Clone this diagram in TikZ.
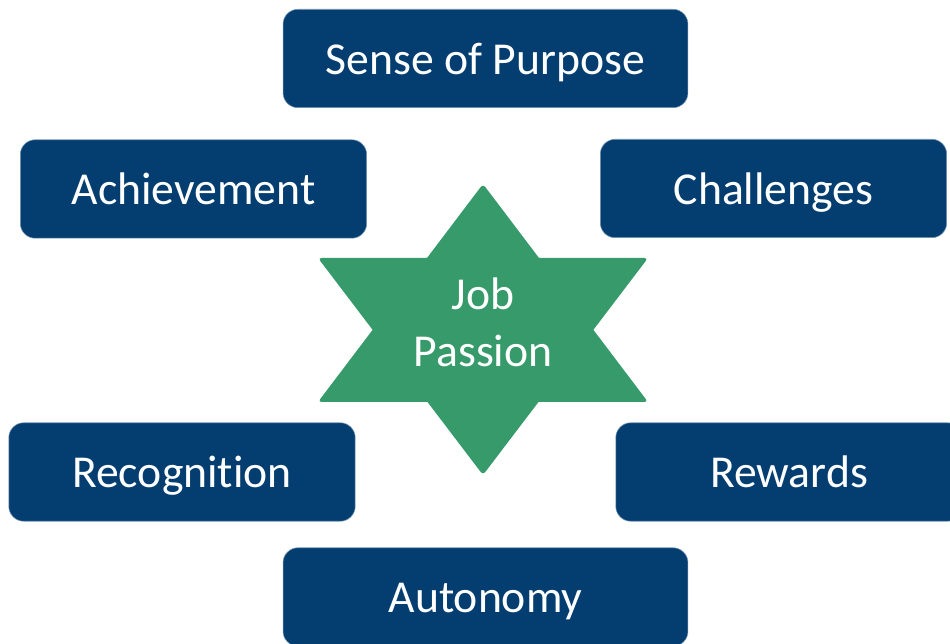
\documentclass[tikz,border=0pt]{standalone}
\usepackage{fontspec}
\setmainfont{Carlito}[Ligatures=NoCommon]
\definecolor{boxblue}{RGB}{4,62,113}
\definecolor{boxedge}{RGB}{120,150,180}
\definecolor{stargreen}{RGB}{54,154,106}
\begin{document}
\begin{tikzpicture}[x=0.02cm,y=-0.02cm,
    factor/.style={draw=boxedge, line width=0.3pt, fill=boxblue, rounded corners=0.3cm,
      minimum height=1.97cm, inner sep=0pt, text height=0.84cm, text depth=0.2cm,
      text=white, font=\fontsize{26}{32.5}\selectfont},
    wide/.style={factor, minimum width=8.1cm},
    narrow/.style={factor, minimum width=6.93cm}]
    \clip (0,0) rectangle (950,644);
    \node[wide] (purpose) at (485.5,58.5) {Sense of Purpose};
    \node[narrow] (achieve) at (193.5,189) {Achievement};
    \node[narrow] (challenge) at (773.5,188.5) {Challenges};
    \node[narrow] (recog) at (182,472) {Recognition};
    \node[narrow] (reward) at (789,472) {Rewards};
    \node[wide] (autonomy) at (485.5,597) {Autonomy};
    % star from two triangles
    \fill[stargreen, rounded corners=2pt] (483,184) -- (648,402) -- (318,402) -- cycle;
    \fill[stargreen, rounded corners=2pt] (483,475) -- (318,258) -- (648,258) -- cycle;
    \node[text=white, align=center, font=\fontsize{26}{32.5}\selectfont] (passion) at (483,322) {Job\\Passion};
\end{tikzpicture}
\end{document}
